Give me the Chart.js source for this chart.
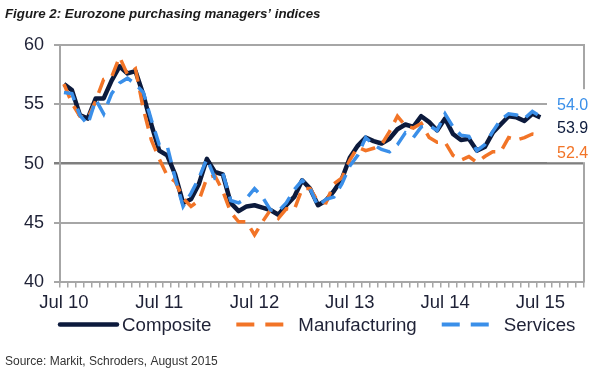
<!DOCTYPE html>
<html>
<head>
<meta charset="utf-8">
<script src="https://cdn.jsdelivr.net/npm/chart.js@4.4.1/dist/chart.umd.min.js"></script>
<style>
  html, body { margin: 0; padding: 0; background: #ffffff; }
  #wrap { width: 600px; height: 376px; position: relative; }
  canvas { display: block; }
</style>
</head>
<body>
<div id="wrap"><canvas id="c" width="600" height="376"></canvas></div>
<script>
// ---------- data ----------
const titleText = "Figure 2: Eurozone purchasing managers\u2019 indices";
const sourceText = "Source: Markit, Schroders, August 2015";
const seriesNames = ["Composite", "Manufacturing", "Services"];

const months = [
  "Jul 10","Aug 10","Sep 10","Oct 10","Nov 10","Dec 10",
  "Jan 11","Feb 11","Mar 11","Apr 11","May 11","Jun 11",
  "Jul 11","Aug 11","Sep 11","Oct 11","Nov 11","Dec 11",
  "Jan 12","Feb 12","Mar 12","Apr 12","May 12","Jun 12",
  "Jul 12","Aug 12","Sep 12","Oct 12","Nov 12","Dec 12",
  "Jan 13","Feb 13","Mar 13","Apr 13","May 13","Jun 13",
  "Jul 13","Aug 13","Sep 13","Oct 13","Nov 13","Dec 13",
  "Jan 14","Feb 14","Mar 14","Apr 14","May 14","Jun 14",
  "Jul 14","Aug 14","Sep 14","Oct 14","Nov 14","Dec 14",
  "Jan 15","Feb 15","Mar 15","Apr 15","May 15","Jun 15",
  "Jul 15","Aug 15","Sep 15","Oct 15","Nov 15","Dec 15"
];

const composite = [
  56.7, 56.2, 54.1, 53.8, 55.5, 55.5,
  57.0, 58.2, 57.6, 57.8, 55.8, 53.3,
  51.1, 50.7, 49.1, 46.7, 47.0, 48.3,
  50.4, 49.3, 49.1, 46.7, 46.0, 46.4,
  46.5, 46.3, 46.1, 45.7, 46.5, 47.2,
  48.6, 47.9, 46.5, 46.9, 47.7, 48.7,
  50.5, 51.5, 52.2, 51.9, 51.7, 52.1,
  52.9, 53.3, 53.1, 54.0, 53.5, 52.8,
  53.8, 52.5, 52.0, 52.1, 51.1, 51.4,
  52.6, 53.3, 54.0, 53.9, 53.6, 54.2,
  53.9
];

const manufacturing = [
  56.7, 55.1, 54.0, 53.8, 55.3, 57.1,
  57.3, 59.0, 57.5, 58.0, 54.6, 52.0,
  50.4, 49.0, 48.5, 47.1, 46.4, 46.9,
  48.8, 49.0, 47.7, 45.9, 45.1, 45.1,
  44.0, 45.1, 46.1, 45.4, 46.2, 46.1,
  47.9, 47.9, 46.8, 46.7, 48.3, 48.8,
  50.3, 51.4, 51.1, 51.3, 51.6, 52.7,
  54.0, 53.2, 53.0, 53.4, 52.2, 51.8,
  51.8, 50.7, 50.3, 50.6, 50.1, 50.6,
  51.0, 51.0, 52.2, 52.0, 52.2, 52.5,
  52.4
];

const services = [
  56.0, 55.9, 54.1, 53.3, 55.4, 54.2,
  55.9, 56.8, 57.2, 56.7, 56.0, 53.7,
  51.6, 51.5, 48.8, 46.4, 47.5, 48.8,
  50.4, 48.8, 49.2, 46.9, 46.7, 47.1,
  47.9, 47.2, 46.1, 46.0, 46.7, 47.8,
  48.6, 47.9, 46.4, 47.0, 47.2, 48.3,
  49.8, 50.7, 52.2, 51.6, 51.2, 51.0,
  51.6, 52.6, 52.2, 53.1, 53.2, 52.8,
  54.2, 53.1, 52.4, 52.3, 51.1, 51.6,
  52.7, 53.7, 54.2, 54.1, 53.8, 54.4,
  54.0
];

const yMin = 40, yMax = 60, yStep = 5;
const highlightLine = 50;

// ---------- style ----------
const FONT = '"Liberation Sans", Arial, Helvetica, sans-serif';
const NAVY = '#0c1a3c';
const ORANGE = '#f27427';
const BLUE = '#3a8fe9';
const GRID = '#a6a6a6';
const TEXT = '#1e2136';

const dashedLegend = [18, 11];

const extras = {
  id: 'extras',
  afterDraw(chart) {
    const { ctx, chartArea: a, scales } = chart;
    const y = scales.y;
    ctx.save();

    // right frame line
    ctx.strokeStyle = GRID;
    ctx.lineWidth = 2;
    ctx.beginPath();
    ctx.moveTo(a.right, a.top - 1);
    ctx.lineTo(a.right, a.bottom);
    ctx.stroke();

    // end value labels
    const ds = chart.data.datasets;
    const lastOf = arr => arr[arr.length - 1];
    const labels = [
      { v: lastOf(ds[2].data), color: BLUE, off: -11 },
      { v: lastOf(ds[0].data), color: NAVY, off: 11 },
      { v: lastOf(ds[1].data), color: ORANGE, off: 18 }
    ];
    labels.forEach(l => { l.py = y.getPixelForValue(l.v) + l.off; });
    const boxTop = labels[0].py - 16;
    const boxBot = labels[2].py + 9;
    ctx.fillStyle = '#ffffff';
    ctx.fillRect(a.right - 37, boxTop, 50, boxBot - boxTop);
    ctx.font = '16px ' + FONT;
    ctx.textAlign = 'left';
    ctx.textBaseline = 'middle';
    labels.forEach(l => {
      ctx.fillStyle = l.color;
      ctx.fillText(l.v.toFixed(1), a.right - 27, l.py);
    });

    // legend
    const ly = a.bottom + 42;
    let x = a.left;
    ctx.font = '18.7px ' + FONT;
    ds.forEach((d, i) => {
      const solid = !d.borderDash || d.borderDash.length === 0;
      const w = solid ? 57 : 47;
      ctx.strokeStyle = d.borderColor;
      ctx.lineWidth = solid ? 4.5 : 4;
      ctx.lineCap = solid ? 'round' : 'butt';
      ctx.setLineDash(solid ? [] : dashedLegend);
      ctx.beginPath();
      ctx.moveTo(x, ly);
      ctx.lineTo(x + w, ly);
      ctx.stroke();
      ctx.setLineDash([]);
      x += w + (solid ? 5 : 15);
      ctx.fillStyle = TEXT;
      ctx.fillText(d.label, x, ly + 1);
      x += ctx.measureText(d.label).width + 25;
    });

    ctx.restore();
  }
};

new Chart(document.getElementById('c'), {
  type: 'line',
  data: {
    labels: months,
    datasets: [
      { label: seriesNames[0], data: composite, borderColor: NAVY, backgroundColor: NAVY,
        borderWidth: 4.5, pointRadius: 0, tension: 0, order: 3, borderJoinStyle: 'round' },
      { label: seriesNames[1], data: manufacturing, borderColor: ORANGE, backgroundColor: ORANGE,
        borderWidth: 3.5, borderDash: [15, 9], pointRadius: 0, tension: 0, order: 2 },
      { label: seriesNames[2], data: services, borderColor: BLUE, backgroundColor: BLUE,
        borderWidth: 3.5, borderDash: [15, 9], pointRadius: 0, tension: 0, order: 1 }
    ]
  },
  options: {
    responsive: false,
    animation: false,
    devicePixelRatio: 1,
    layout: { padding: { left: 5, right: 16, top: 0, bottom: 0 } },
    plugins: {
      legend: { display: false },
      tooltip: { enabled: false },
      title: {
        display: true, text: titleText, align: 'start', color: '#1a1a1a',
        font: { family: FONT, size: 13.3, style: 'italic', weight: 'bold' },
        padding: { top: 6, bottom: 23 }
      },
      subtitle: {
        display: true, text: sourceText, position: 'bottom', align: 'start', color: '#333333',
        font: { family: FONT, size: 12 },
        padding: { top: 36.7, bottom: 7.3 }
      }
    },
    scales: {
      x: {
        type: 'category',
        offset: true,
        grid: { offset: true, drawOnChartArea: false, drawTicks: true, tickLength: 5, color: GRID, lineWidth: 1.5 },
        border: { display: true, color: GRID, width: 2 },
        ticks: {
          autoSkip: false, maxRotation: 0, minRotation: 0, padding: 4, color: TEXT,
          font: { family: FONT, size: 18.5 },
          callback(v) { const l = this.getLabelForValue(v); return l.startsWith('Jul') ? l : ''; }
        }
      },
      y: {
        min: yMin, max: yMax,
        afterFit(scale) { scale.width = 55; },
        grid: {
          color: c => (c.tick && c.tick.value === highlightLine) ? '#7f7f7f' : GRID,
          lineWidth: c => (c.tick && c.tick.value === highlightLine) ? 2.5 : 2,
          drawTicks: true, tickLength: 6
        },
        border: { display: true, color: GRID, width: 2 },
        ticks: { stepSize: yStep, padding: 10, color: TEXT, font: { family: FONT, size: 18 } }
      }
    }
  },
  plugins: [extras]
});
</script>
</body>
</html>
